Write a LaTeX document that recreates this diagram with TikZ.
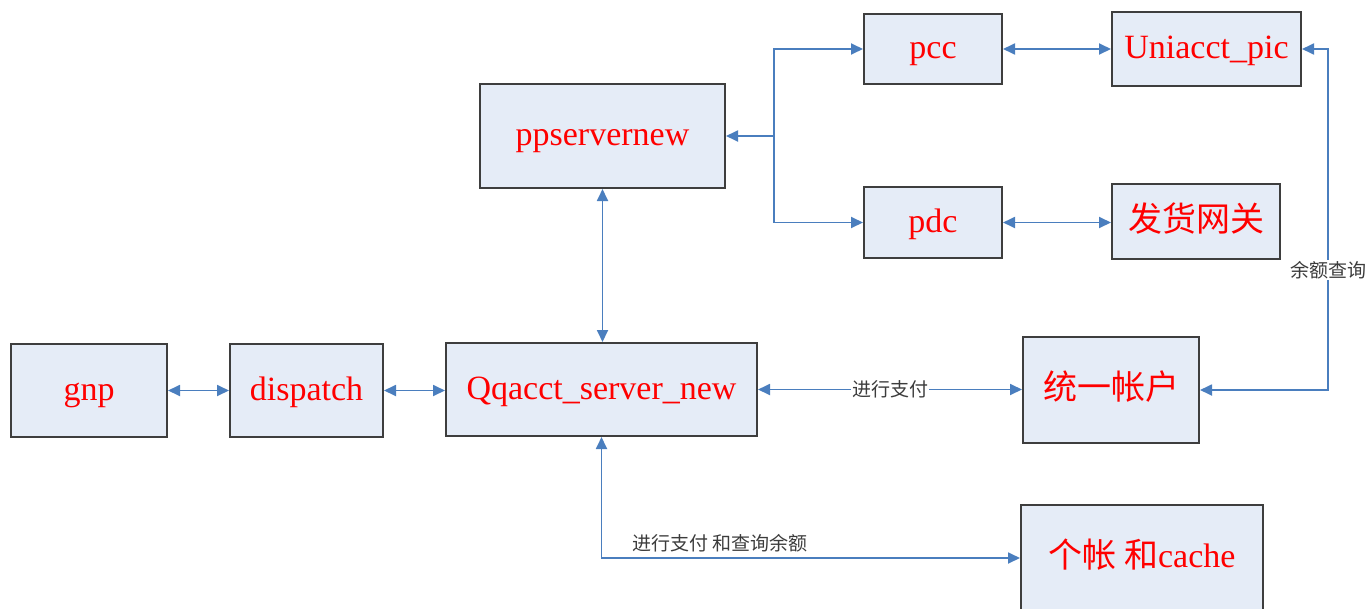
\documentclass[tikz,border=0pt]{standalone}
\usepackage{fontspec}
\setmainfont{Liberation Serif}
\newfontfamily\cjk{Noto Sans CJK SC}
\usetikzlibrary{arrows.meta}
\definecolor{boxfill}{RGB}{229,236,247}
\definecolor{boxline}{RGB}{62,62,62}
\definecolor{linkblue}{RGB}{74,126,190}
\definecolor{notegray}{RGB}{60,60,60}
\tikzset{
  >={Triangle[length=12pt,width=11pt]},
  unit/.style={draw=boxline, fill=boxfill, line width=2pt, text=red,
    font=\fontsize{34}{40}\selectfont, inner sep=0pt, align=center,
    text height=25pt, text depth=6pt},
  link/.style={draw=linkblue, line width=1.8pt},
  note/.style={fill=white, text=notegray, inner sep=1pt,
    font=\cjk\fontsize{19}{22}\selectfont},
}
\begin{document}
\begin{tikzpicture}[x=1pt,y=-1pt]
\useasboundingbox (0,0) rectangle (1365,608);
\clip (0,0) rectangle (1365,608);

% service boxes
\node[unit, minimum width=156pt, minimum height=93pt]  (gnp)  at (89,390.5)   {gnp};
\node[unit, minimum width=153pt, minimum height=93pt]  (disp) at (306.5,390.5) {dispatch};
\node[unit, minimum width=311pt, minimum height=93pt]  (qq)   at (601.5,389.5) {Qqacct\_server\_new};
\node[unit, minimum width=245pt, minimum height=104pt] (pps)  at (602.5,136)   {ppservernew};
\node[unit, minimum width=138pt, minimum height=70pt]  (pcc)  at (933,49)      {pcc};
\node[unit, minimum width=189pt, minimum height=74pt]  (uni)  at (1206.5,49)   {Uniacct\_pic};
\node[unit, minimum width=138pt, minimum height=71pt]  (pdc)  at (933,222.5)   {pdc};
\node[unit, minimum width=168pt, minimum height=75pt]  (fh)   at (1196,221.5)  {\cjk 发货网关};
\node[unit, minimum width=176pt, minimum height=106pt] (ty)   at (1111,390)    {\cjk 统一帐户};
\node[unit, minimum width=242pt, minimum height=106pt] (gz)   at (1142,558)    {{\cjk 个帐 和}cache};

% routing points
\coordinate (br) at (774,136);
\coordinate (rc) at (1328,300);

% connectors
\draw[link,<->] (gnp.east) -- (disp.west);
\draw[link,<->] (disp.east) -- (disp.east -| qq.west);
\draw[link,<->] (qq.east) -- node[note] {进行支付} (qq.east -| ty.west);
\draw[link,<->] (pps.south) -- (pps.south |- qq.north);
\draw[link,<-] (pps.east) -- (br);
\draw[link,->] (br) |- (pcc.west);
\draw[link,->] (br) |- (pdc.west);
\draw[link,<->] (pcc.east) -- (uni.west);
\draw[link,<->] (pdc.east) -- (pdc.east -| fh.west);
\draw[link,<->] (uni.east) -- (uni.east -| rc)
  -- node[note, pos=0.648] {余额查询} (rc |- ty.east) -- (ty.east);
\draw[link,<->] (qq.south) -- (qq.south |- gz.west)
  -- node[note, fill=none, pos=0.283, anchor=south, yshift=4pt] {进行支付 和查询余额} (gz.west);
\end{tikzpicture}
\end{document}
